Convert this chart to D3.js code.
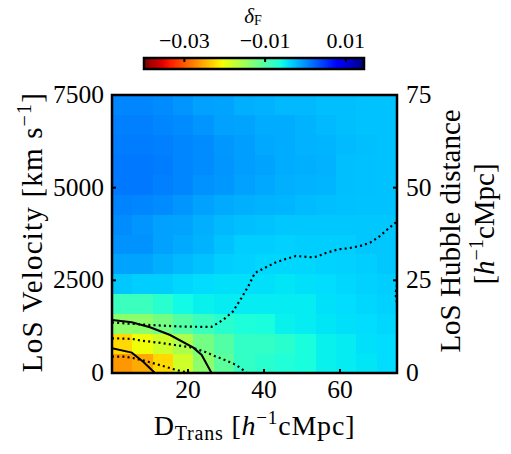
<!DOCTYPE html>
<html><head><meta charset="utf-8">
<script src="https://cdn.jsdelivr.net/npm/d3@7"></script>
<style>body{margin:0;background:#fff}svg{display:block}text{font-family:"Liberation Serif","Times New Roman",serif;fill:#000}</style>
</head><body>
<script>
// ---- data ----
const xDomain = [0, 75];            // D_Trans [h^-1 cMpc]
const yDomain = [0, 7500];          // LoS velocity [km/s]
const hubbleDomain = [0, 75];       // LoS Hubble distance
const nBins = 14;
const colorDomain = [-0.04, 0.0145];
const xTicks = [20, 40, 60];
const yTicks = [0, 2500, 5000, 7500];
const rightTicks = [0, 25, 50, 75];
const cbTicks = [-0.03, -0.01, 0.01];
// deltaF grid, rows from bottom (row 0) to top (row 13), columns left to right
const row0  = [-0.0264,-0.0253,-0.0226,-0.0182,-0.0138,-0.0106,-0.0078,-0.0073,-0.0067,-0.0062,-0.0052,-0.0049,-0.0046,-0.0041];
const row1  = [-0.0226,-0.0204,-0.0182,-0.0160,-0.0122,-0.0100,-0.0078,-0.0078,-0.0073,-0.0062,-0.0052,-0.0049,-0.0043,-0.0041];
const row2  = [-0.0138,-0.0138,-0.0122,-0.0100,-0.0084,-0.0073,-0.0065,-0.0062,-0.0052,-0.0049,-0.0046,-0.0043,-0.0041,-0.0038];
const row3  = [-0.0084,-0.0084,-0.0073,-0.0057,-0.0052,-0.0049,-0.0049,-0.0049,-0.0049,-0.0049,-0.0043,-0.0041,-0.0038,-0.0035];
const row4  = [-0.0030,-0.0033,-0.0033,-0.0038,-0.0041,-0.0043,-0.0043,-0.0043,-0.0046,-0.0043,-0.0041,-0.0038,-0.0035,-0.0033];
const row5  = [-0.0011,-0.0011,-0.0017,-0.0022,-0.0027,-0.0033,-0.0035,-0.0038,-0.0038,-0.0038,-0.0036,-0.0035,-0.0033,-0.0030];
const row6  = [-0.0001,-0.0001,-0.0009,-0.0014,-0.0019,-0.0027,-0.0033,-0.0033,-0.0035,-0.0033,-0.0033,-0.0033,-0.0030,-0.0030];
const row7  = [0.0002,-0.0003,-0.0009,-0.0011,-0.0017,-0.0022,-0.0025,-0.0027,-0.0030,-0.0030,-0.0030,-0.0030,-0.0030,-0.0030];
const row8  = [0.0007,0.0005,0.0002,-0.0003,-0.0009,-0.0014,-0.0017,-0.0019,-0.0020,-0.0023,-0.0025,-0.0026,-0.0027,-0.0027];
const row9  = [0.0013,0.0013,0.0009,0.0005,-0.0001,-0.0004,-0.0009,-0.0013,-0.0017,-0.0018,-0.0020,-0.0025,-0.0026,-0.0027];
const row10 = [0.0013,0.0013,0.0010,0.0005,0.0002,-0.0003,-0.0008,-0.0011,-0.0015,-0.0017,-0.0018,-0.0025,-0.0026,-0.0027];
const row11 = [0.0010,0.0010,0.0009,0.0005,0.0002,-0.0004,-0.0008,-0.0013,-0.0015,-0.0018,-0.0020,-0.0023,-0.0025,-0.0027];
const row12 = [0.0009,0.0009,0.0005,0.0002,-0.0003,-0.0009,-0.0011,-0.0015,-0.0015,-0.0019,-0.0022,-0.0025,-0.0027,-0.0027];
const row13 = [0.0005,0.0005,0.0002,-0.0003,-0.0009,-0.0011,-0.0017,-0.0018,-0.0022,-0.0022,-0.0025,-0.0025,-0.0027,-0.0027];
const grid = [row0,row1,row2,row3,row4,row5,row6,row7,row8,row9,row10,row11,row12,row13];
// contours [D_Trans, velocity]
const solidOuter = [[0,1430],[5.2,1370],[10.0,1235],[15.3,1025],[21.4,683],[23.6,486],[26.2,0]];
const solidInner = [[0,668],[5.2,550],[8.2,305],[11.3,0]];
const dottedA = [[0,1362],[10,1295],[17.9,1255],[26.1,1241],[29.2,1430],[31.8,1654],[34.0,2015],[35.8,2328],[37.6,2698],[40.3,2841],[42.9,2976],[45.5,3068],[48.4,3157],[52.6,3122],[53.9,3138],[56.5,3246],[59.6,3337],[62.2,3364],[65.3,3427],[67.9,3516],[70.1,3661],[72.3,3858],[75,4090]];
const dottedB = [[0,936],[5.3,920],[7.7,873],[12.1,820],[16.5,756],[20.8,692],[24.4,575],[27.0,459],[29.7,351],[32.7,216],[34.5,81],[35.5,0]];
const dottedC = [[0,445],[3.3,440],[5.9,396],[9.5,305],[13.4,189],[16.9,81],[19.6,19],[20.5,0]];
const dottedD = [[75,2380],[74.7,2190],[74.7,2060],[75,1900]];

// ---- jet colormap ----
const jr = d3.scaleLinear().domain([0,0.35,0.66,0.89,1]).range([0,0,1,1,0.5]).clamp(true);
const jg = d3.scaleLinear().domain([0,0.125,0.375,0.64,0.91,1]).range([0,0,1,1,0,0]).clamp(true);
const jb = d3.scaleLinear().domain([0,0.11,0.34,0.65,1]).range([0.5,1,1,0,0]).clamp(true);
function jet(t){ return d3.rgb(255*jr(t),255*jg(t),255*jb(t)).toString(); }
const tScale = d3.scaleLinear().domain(colorDomain).range([1,0]).clamp(true);
const color = v => jet(tScale(v));

const W = 511, H = 454;
const svg = d3.select("body").append("svg").attr("width",W).attr("height",H);
const L = 112, R = 397, T = 95, B = 373;
const x = d3.scaleLinear().domain(xDomain).range([L,R]);
const y = d3.scaleLinear().domain(yDomain).range([B,T]);
const y2 = d3.scaleLinear().domain(hubbleDomain).range([B,T]);

// heatmap
const dx = (xDomain[1]-xDomain[0])/nBins, dy = (yDomain[1]-yDomain[0])/nBins;
const cells = [];
grid.forEach((row,j)=>row.forEach((v,i)=>cells.push({i,j,v})));
svg.append("g").selectAll("rect").data(cells).join("rect")
  .attr("x", d=>x(d.i*dx)).attr("y", d=>y((d.j+1)*dy))
  .attr("width", d=>x((d.i+1)*dx)-x(d.i*dx)+0.5)
  .attr("height", d=>y(d.j*dy)-y((d.j+1)*dy)+0.5)
  .attr("fill", d=>color(d.v)).attr("shape-rendering","crispEdges");

// contours
svg.append("clipPath").attr("id","clip").append("rect").attr("x",L).attr("y",T).attr("width",R-L).attr("height",B-T);
const line = d3.line().x(d=>x(d[0])).y(d=>y(d[1]));
const cg = svg.append("g").attr("clip-path","url(#clip)");
[solidOuter, solidInner].forEach(p=>cg.append("path").attr("d",line(p)).attr("fill","none").attr("stroke","#000").attr("stroke-width",2));
[dottedA, dottedB, dottedC, dottedD].forEach(p=>cg.append("path").attr("d",line(p)).attr("fill","none").attr("stroke","#000").attr("stroke-width",2.2).attr("stroke-dasharray","2,3.2"));

// frame
svg.append("rect").attr("x",L).attr("y",T).attr("width",R-L).attr("height",B-T).attr("fill","none").attr("stroke","#000").attr("stroke-width",2.5);

// ticks
const tk = svg.append("g").attr("stroke","#000").attr("stroke-width",2);
xTicks.forEach(t=>tk.append("line").attr("x1",x(t)).attr("x2",x(t)).attr("y1",B).attr("y2",B-4));
yTicks.forEach(t=>tk.append("line").attr("x1",L).attr("x2",L+4).attr("y1",y(t)).attr("y2",y(t)));
rightTicks.forEach(t=>tk.append("line").attr("x1",R).attr("x2",R-4).attr("y1",y2(t)).attr("y2",y2(t)));

// tick labels
const fs = 25.5;
svg.append("g").selectAll("text").data(xTicks).join("text")
  .attr("x",d=>x(d)).attr("y",B+25).attr("text-anchor","middle").attr("font-size",fs).text(d=>d);
svg.append("g").selectAll("text").data(yTicks).join("text")
  .attr("x",L-8).attr("y",d=>y(d)+8).attr("text-anchor","end").attr("font-size",fs).text(d=>d);
svg.append("g").selectAll("text").data(rightTicks).join("text")
  .attr("x",R+9).attr("y",d=>y2(d)+8).attr("text-anchor","start").attr("font-size",fs).text(d=>d);

// axis titles
const xt = svg.append("text").attr("x",(L+R)/2).attr("y",435).attr("text-anchor","middle").attr("font-size",28).attr("letter-spacing",0.8);
xt.append("tspan").text("D");
xt.append("tspan").attr("font-size",20).attr("dy",5).text("Trans");
xt.append("tspan").attr("dy",-5).text(" [");
xt.append("tspan").attr("font-style","italic").text("h");
xt.append("tspan").attr("font-size",19).attr("dy",-11).text("−1");
xt.append("tspan").attr("dy",11).text("cMpc]");

const yt = svg.append("text").attr("transform",`translate(42,232) rotate(-90)`).attr("text-anchor","middle").attr("font-size",29).attr("letter-spacing",1.2);
yt.append("tspan").text("LoS Velocity [km s");
yt.append("tspan").attr("font-size",20).attr("dy",-11).text("−1");
yt.append("tspan").attr("dy",11).text("]");

const rt = svg.append("text").attr("transform",`translate(460,231) rotate(-90)`).attr("text-anchor","middle").attr("font-size",29);
rt.text("LoS Hubble distance");
const rt2 = svg.append("text").attr("transform",`translate(494,224) rotate(-90)`).attr("text-anchor","middle").attr("font-size",29);
rt2.append("tspan").text("[");
rt2.append("tspan").attr("font-style","italic").text("h");
rt2.append("tspan").attr("font-size",20).attr("dy",-11).text("−1");
rt2.append("tspan").attr("dy",11).text("cMpc]");

// colorbar
const cbL = 144, cbR = 364, cbT = 58, cbB = 69;
const cx = d3.scaleLinear().domain(colorDomain).range([cbL,cbR]);
const grad = svg.append("defs").append("linearGradient").attr("id","cbgrad").attr("x1","0%").attr("x2","100%");
d3.range(0,1.0001,0.02).forEach(f=>{
  const v = colorDomain[0] + f*(colorDomain[1]-colorDomain[0]);
  grad.append("stop").attr("offset",(f*100)+"%").attr("stop-color",color(v));
});
svg.append("rect").attr("x",cbL).attr("y",cbT).attr("width",cbR-cbL).attr("height",cbB-cbT).attr("fill","url(#cbgrad)").attr("stroke","#000").attr("stroke-width",2.5);
cbTicks.forEach(t=>svg.append("line").attr("x1",cx(t)).attr("x2",cx(t)).attr("y1",cbT).attr("y2",cbT+4).attr("stroke","#000").attr("stroke-width",2));
svg.append("g").selectAll("text").data(cbTicks).join("text")
  .attr("x",d=>cx(d)).attr("y",48).attr("text-anchor","middle").attr("font-size",22)
  .text(d=>d3.format(".2f")(d).replace("-","−"));
const cbl = svg.append("text").attr("x",253).attr("y",23).attr("text-anchor","middle").attr("font-size",21);
cbl.append("tspan").attr("font-style","italic").text("δ");
cbl.append("tspan").attr("font-size",14).attr("dy",2).text("F");
</script>
</body></html>
